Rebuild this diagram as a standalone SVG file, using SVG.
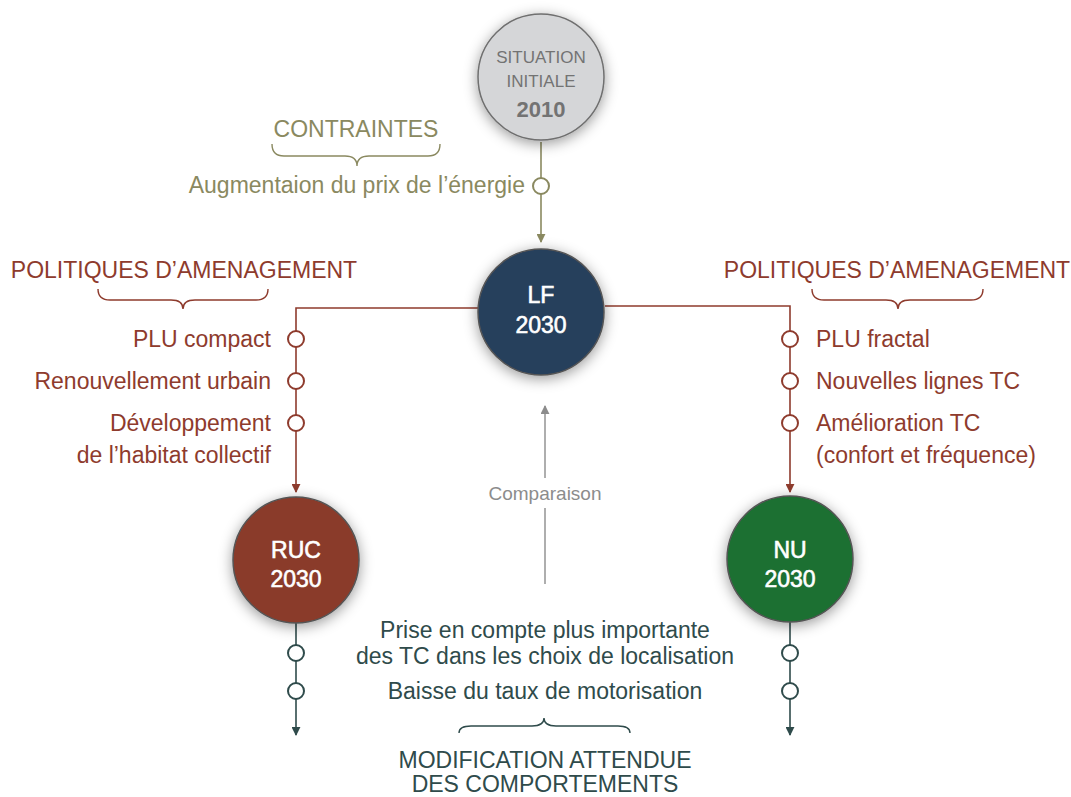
<svg xmlns="http://www.w3.org/2000/svg" width="1071" height="797" viewBox="0 0 1071 797">
<defs>
<style>
text{font-family:"Liberation Sans",Arial,sans-serif;}
.olive{fill:#8a8960;font-size:23px;}
.red{fill:#8e3b2d;font-size:23px;}
.teal{fill:#2f4b4b;font-size:23px;}
.node-t{fill:#ffffff;font-size:23px;text-anchor:middle;stroke:#ffffff;stroke-width:0.6;}
.dot{fill:#ffffff;stroke-width:2;}
.brace{fill:none;stroke-width:1.4;}
</style>
<filter id="sh" x="-40%" y="-40%" width="180%" height="180%">
<feDropShadow dx="0" dy="3" stdDeviation="7" flood-color="#000" flood-opacity="0.4"/>
</filter>
<marker id="aOlive" viewBox="0 0 10 10" refX="9" refY="5" markerWidth="9" markerHeight="9" markerUnits="userSpaceOnUse" orient="auto"><path d="M0,0L10,5L0,10z" fill="#8a8960"/></marker>
<marker id="aRed" viewBox="0 0 10 10" refX="9" refY="5" markerWidth="9" markerHeight="9" markerUnits="userSpaceOnUse" orient="auto"><path d="M0,0L10,5L0,10z" fill="#8e3b2d"/></marker>
<marker id="aTeal" viewBox="0 0 10 10" refX="9" refY="5" markerWidth="9" markerHeight="9" markerUnits="userSpaceOnUse" orient="auto"><path d="M0,0L10,5L0,10z" fill="#2f4b4b"/></marker>
<marker id="aGray" viewBox="0 0 10 10" refX="9" refY="5" markerWidth="9" markerHeight="9" markerUnits="userSpaceOnUse" orient="auto"><path d="M0,0L10,5L0,10z" fill="#8c8c8c"/></marker>
</defs>
<rect width="1071" height="797" fill="#ffffff"/>

<g id="connectors">
<line x1="541" y1="142" x2="541" y2="242" stroke="#8a8960" stroke-width="1.6" marker-end="url(#aOlive)"/>
<circle class="dot" cx="541" cy="186" r="8" stroke="#8a8960"/>
<polyline points="478,308 296,308 296,492" fill="none" stroke="#8e3b2d" stroke-width="1.6" marker-end="url(#aRed)"/>
<polyline points="605,306 790,306 790,492" fill="none" stroke="#8e3b2d" stroke-width="1.6" marker-end="url(#aRed)"/>
<circle class="dot" cx="296" cy="339" r="8" stroke="#8e3b2d"/>
<circle class="dot" cx="296" cy="381" r="8" stroke="#8e3b2d"/>
<circle class="dot" cx="296" cy="423" r="8" stroke="#8e3b2d"/>
<circle class="dot" cx="790" cy="339" r="8" stroke="#8e3b2d"/>
<circle class="dot" cx="790" cy="381" r="8" stroke="#8e3b2d"/>
<circle class="dot" cx="790" cy="423" r="8" stroke="#8e3b2d"/>
<line x1="296" y1="623" x2="296" y2="735" stroke="#2f4b4b" stroke-width="1.6" marker-end="url(#aTeal)"/>
<line x1="790" y1="622" x2="790" y2="735" stroke="#2f4b4b" stroke-width="1.6" marker-end="url(#aTeal)"/>
<circle class="dot" cx="296" cy="653" r="8" stroke="#2f4b4b"/>
<circle class="dot" cx="296" cy="691" r="8" stroke="#2f4b4b"/>
<circle class="dot" cx="790" cy="653" r="8" stroke="#2f4b4b"/>
<circle class="dot" cx="790" cy="691" r="8" stroke="#2f4b4b"/>
<line x1="545" y1="584" x2="545" y2="406" stroke="#8c8c8c" stroke-width="1.4" marker-end="url(#aGray)"/>
<rect x="475" y="478" width="140" height="30" fill="#ffffff"/>
<text x="545" y="500" text-anchor="middle" fill="#8c8c8c" font-size="19">Comparaison</text>
</g>

<g id="situation">
<circle cx="541" cy="77" r="63" fill="#d5d6d8" stroke="#6f6f6f" stroke-width="1.5" filter="url(#sh)"/>
<text x="541" y="63" text-anchor="middle" fill="#737373" font-size="17">SITUATION</text>
<text x="541" y="87" text-anchor="middle" fill="#737373" font-size="17">INITIALE</text>
<text x="541" y="117" text-anchor="middle" fill="#737373" font-size="22" font-weight="bold">2010</text>
</g>

<g id="lf">
<circle cx="541" cy="312" r="63" fill="#283f5c" stroke="#555" stroke-width="1.5" filter="url(#sh)"/>
<text class="node-t" x="541" y="303">LF</text>
<text class="node-t" x="541" y="333">2030</text>
</g>

<g id="ruc">
<circle cx="296" cy="560" r="63" fill="#8a3a2a" stroke="#555" stroke-width="1.5" filter="url(#sh)"/>
<text class="node-t" x="296" y="558">RUC</text>
<text class="node-t" x="296" y="587">2030</text>
</g>

<g id="nu">
<circle cx="790" cy="559" r="63" fill="#1d6f33" stroke="#555" stroke-width="1.5" filter="url(#sh)"/>
<text class="node-t" x="790" y="558">NU</text>
<text class="node-t" x="790" y="587">2030</text>
</g>

<g id="contraintes">
<text class="olive" x="356" y="137" text-anchor="middle">CONTRAINTES</text>
<path class="brace" stroke="#8a8960" d="M272,144 Q272,156 284,156 L345,156 Q357,156 357,166 Q357,156 369,156 L428,156 Q440,156 440,144"/>
<text class="olive" x="525" y="193" text-anchor="end">Augmentaion du prix de l’énergie</text>
</g>

<g id="politiques-gauche">
<text class="red" x="184" y="278" text-anchor="middle">POLITIQUES D’AMENAGEMENT</text>
<path class="brace" stroke="#8e3b2d" d="M98,289 Q98,300 110,300 L171,300 Q183,300 183,309 Q183,300 195,300 L256,300 Q268,300 268,289"/>
<text class="red" x="271" y="347" text-anchor="end">PLU compact</text>
<text class="red" x="271" y="389" text-anchor="end">Renouvellement urbain</text>
<text class="red" x="271" y="431" text-anchor="end">Développement</text>
<text class="red" x="271" y="463" text-anchor="end">de l’habitat collectif</text>
</g>

<g id="politiques-droite">
<text class="red" x="897" y="278" text-anchor="middle">POLITIQUES D’AMENAGEMENT</text>
<path class="brace" stroke="#8e3b2d" d="M812,289 Q812,300 824,300 L886,300 Q898,300 898,309 Q898,300 910,300 L971,300 Q983,300 983,289"/>
<text class="red" x="816" y="347">PLU fractal</text>
<text class="red" x="816" y="389">Nouvelles lignes TC</text>
<text class="red" x="816" y="431">Amélioration TC</text>
<text class="red" x="816" y="463">(confort et fréquence)</text>
</g>

<g id="comportements">
<text class="teal" x="545" y="638" text-anchor="middle">Prise en compte plus importante</text>
<text class="teal" x="545" y="664" text-anchor="middle">des TC dans les choix de localisation</text>
<text class="teal" x="545" y="699" text-anchor="middle">Baisse du taux de motorisation</text>
<path class="brace" stroke="#2f4b4b" d="M459,733 Q459,726 471,726 L532,726 Q544,726 544,718 Q544,726 556,726 L618,726 Q630,726 630,733"/>
<text class="teal" x="545" y="768" text-anchor="middle" font-size="22">MODIFICATION ATTENDUE</text>
<text class="teal" x="545" y="792" text-anchor="middle" font-size="22">DES COMPORTEMENTS</text>
</g>
</svg>
